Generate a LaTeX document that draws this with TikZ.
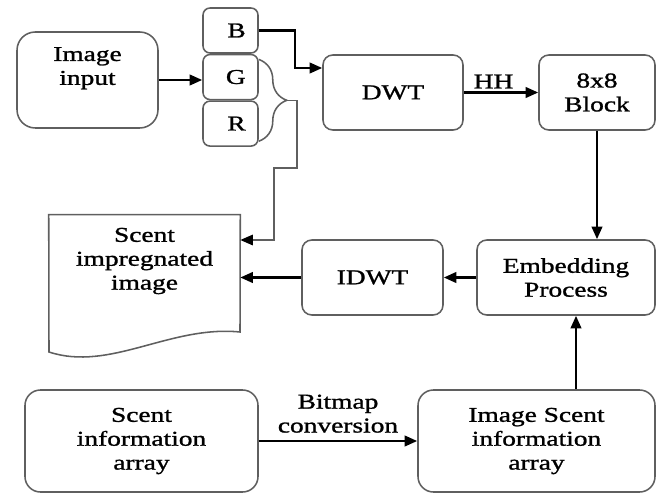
\documentclass[tikz,border=0pt]{standalone}
\usepackage{fontspec}
\setmainfont{Liberation Serif}[FakeStretch=1.3, FakeBold=1.2]
\usetikzlibrary{positioning, arrows.meta, decorations.pathreplacing}
\definecolor{EdgeGray}{RGB}{95,95,95}

\begin{document}
\begin{tikzpicture}[
    box/.style={rectangle, rounded corners=7pt, draw=EdgeGray, line width=1.1pt,
                align=center, inner sep=2pt, font=\fontsize{15}{17}\selectfont},
    ch/.style={box, rounded corners=5pt, minimum width=1.375cm,
               minimum height=1.125cm, text width=0.76cm, align=right},
    arr/.style={-{Triangle[length=9pt, width=7.5pt]}, line width=1.8pt},
    tarr/.style={-{Triangle[length=9pt, width=7.5pt, black]}, draw=EdgeGray,
                 line width=1.1pt},
    lbl/.style={font=\fontsize{15}{17}\selectfont, align=center, inner sep=2pt}
  ]
  \useasboundingbox (0,0) rectangle (16.4,12.375);

  % Input image and colour channels
  \node[box, rounded corners=13pt, minimum width=3.525cm, minimum height=2.4cm,
        text depth=0.7cm] (input) at (2.1875, 10.375) {Image\\input};
  \node[ch] (b) at (5.7625, 11.6125) {B};
  \node[ch, below=0pt of b] (g) {G};
  \node[ch, below=0pt of g] (r) {R};

  % Transform chain
  \node[box, minimum width=3.5cm, minimum height=1.875cm] (dwt)
        at (9.825, 10.0625) {DWT};
  \node[box, minimum width=2.9cm, minimum height=1.875cm] (blk)
        at (14.925, 10.0625) {8x8\\Block};
  \node[box, minimum width=4.45cm, minimum height=1.875cm] (emb)
        at (14.15, 5.4375) {Embedding\\Process};
  \node[box, minimum width=3.525cm, minimum height=1.875cm] (idwt)
        at (9.3125, 5.4375) {IDWT};

  % Output document (outline drawn below)
  \node[lbl, minimum width=4.775cm, minimum height=2.3cm] (out)
        at (3.6125, 5.85) {Scent\\impregnated\\image};
  \draw[EdgeGray, line width=1.1pt] (out.north west) -- (out.north east)
        -- (6.0, 4.075) .. controls (4.25, 4.25) and (2.75, 3.075) .. (1.225, 3.575)
        -- cycle;

  % Scent data
  \node[box, rounded corners=11pt, minimum width=5.825cm, minimum height=2.55cm]
        (src) at (3.5375, 1.35) {Scent\\information\\array};
  \node[box, rounded corners=11pt, minimum width=5.925cm, minimum height=2.55cm]
        (isa) at (13.4125, 1.35) {Image Scent\\information\\array};

  % Brace over G and R
  \draw[EdgeGray, line width=1.1pt, decorate,
        decoration={brace, amplitude=0.7cm}]
        ([yshift=-4pt]g.north east) -- ([yshift=4pt]r.south east);
  \coordinate (brtip) at ([xshift=0.7cm]g.south east);
  \coordinate (kink) at (6.85, 8.175);
  \coordinate (embin) at ([xshift=0.25cm]emb.south);

  % Connectors
  \draw[arr] (input.east) -- (input.east -| g.west);
  \draw[arr] (b.east) -- ++(0.9,0) |- ([yshift=0.6125cm]dwt.west);
  \draw[arr] (dwt) -- node[lbl, above, pos=0.4] {HH} (blk);
  \draw[arr] (blk.south) -- (blk.south |- emb.north);
  \draw[arr] (emb) -- (idwt);
  \draw[arr] (idwt.west) -- (idwt.west -| out.east);
  \draw[tarr] (brtip) -- ++(0.25,0) |- (kink) |- ([yshift=0.525cm]out.east);
  \draw[arr] (src) -- node[lbl, above, yshift=3pt] {Bitmap\\conversion} (isa);
  \draw[arr] (embin |- isa.north) -- (embin);
\end{tikzpicture}
\end{document}
